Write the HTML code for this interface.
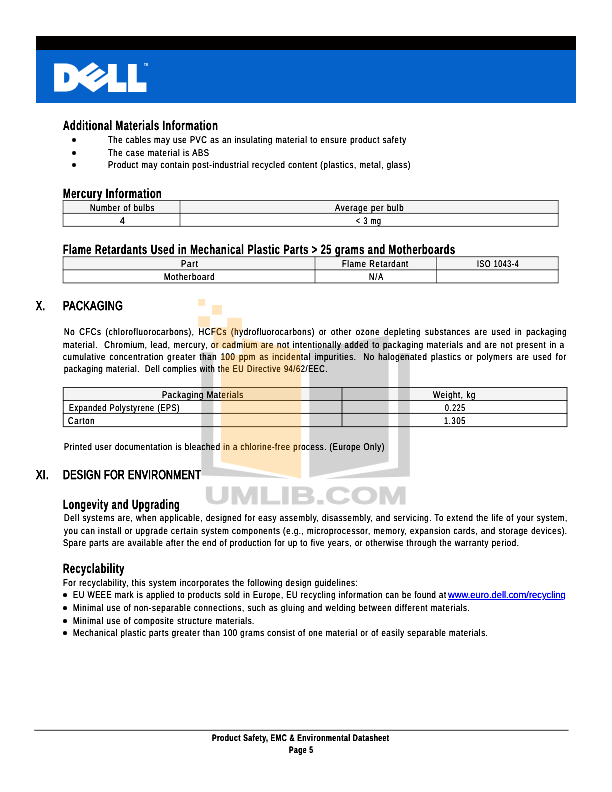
<!DOCTYPE html>
<html lang="en"><head><meta charset="utf-8"><title>Product Safety, EMC &amp; Environmental Datasheet - Page 5</title>
<style>
html,body{margin:0;padding:0;background:#fff;}
body{width:612px;height:792px;position:relative;overflow:hidden;font-family:"Liberation Sans",sans-serif;color:#000;}
.t{position:absolute;white-space:pre;line-height:1em;transform-origin:0 0;margin:0;padding:0;text-rendering:geometricPrecision;-webkit-text-stroke:0 #000;filter:url(#ink);}
.r{position:absolute;}
svg.o{position:absolute;left:0;top:0;}
</style></head><body>
<svg width="0" height="0" style="position:absolute"><defs><filter id="ink" x="-5%" y="-40%" width="110%" height="180%" color-interpolation-filters="sRGB"><feComponentTransfer><feFuncA type="linear" slope="1.7" intercept="-0.08"/></feComponentTransfer></filter></defs></svg>
<div class="r" style="left:36.00px;top:36.00px;width:540.00px;height:14.00px;background:#030000;"></div>
<div class="r" style="left:36.00px;top:50.00px;width:540.00px;height:52.85px;background:#0562cb;"></div>
<svg class="o" width="612" height="792" viewBox="0 0 612 792" style="z-index:1;will-change:transform">
<g aria-label="DELL" font-family="Liberation Sans, sans-serif" font-weight="bold" font-size="31.9" fill="#fff" stroke="#fff" stroke-width="5.96" stroke-linejoin="miter"><text transform="translate(54.39,89) scale(1,1)" font-size="33" stroke-width="5.2">D</text><text transform="matrix(0.9746,-0.683,0.819,0.574,91.42,91.57)" font-size="33.3" stroke-width="3.6">E</text><text transform="translate(108.69,88.62) scale(0.82,1)">L</text><text transform="translate(128.69,88.62) scale(0.82,1)">L</text></g>
<text x="144" y="66" font-family="Liberation Sans, sans-serif" font-size="2.8" font-weight="bold" fill="#fff">TM</text>
</svg>
<svg class="o" width="612" height="792" viewBox="0 0 612 792" fill="none"><rect x="64.3" y="201.5" width="114.50" height="11.60" fill="#f4f4f4"/><rect x="181.2" y="201.5" width="375.85" height="11.60" fill="#f4f4f4"/><path d="M62.81 200.5H558.54" stroke="#111" stroke-width="0.75"/><path d="M62.81 213.45H558.54" stroke="#111" stroke-width="0.75"/><path d="M62.81 226.4H558.54" stroke="#111" stroke-width="0.75"/><path d="M63.1 200.5V226.4" stroke="#000" stroke-width="0.58"/><path d="M180.0 200.5V226.4" stroke="#000" stroke-width="0.58"/><path d="M558.25 200.5V226.4" stroke="#000" stroke-width="0.58"/><rect x="64.3" y="257.7" width="249.50" height="11.75" fill="#f4f4f4"/><rect x="316.2" y="257.7" width="119.10" height="11.75" fill="#f4f4f4"/><rect x="437.7" y="257.7" width="119.35" height="11.75" fill="#f4f4f4"/><path d="M62.81 256.7H558.54" stroke="#111" stroke-width="0.75"/><path d="M62.81 269.8H558.54" stroke="#111" stroke-width="0.75"/><path d="M62.81 282.9H558.54" stroke="#111" stroke-width="0.75"/><path d="M63.1 256.7V282.9" stroke="#000" stroke-width="0.58"/><path d="M315.0 256.7V282.9" stroke="#000" stroke-width="0.58"/><path d="M436.5 256.7V282.9" stroke="#000" stroke-width="0.58"/><path d="M558.25 256.7V282.9" stroke="#000" stroke-width="0.58"/><rect x="64.5" y="388.5" width="276.30" height="11.65" fill="#f4f4f4"/><rect x="343.2" y="388.5" width="222.60" height="11.65" fill="#f4f4f4"/><path d="M62.9 387.5H567.4" stroke="#111" stroke-width="0.9"/><path d="M62.9 400.5H567.4" stroke="#111" stroke-width="0.9"/><path d="M62.9 413.45H567.4" stroke="#111" stroke-width="0.9"/><path d="M62.9 426.6H567.4" stroke="#111" stroke-width="0.9"/><path d="M63.3 387.5V426.6" stroke="#000" stroke-width="0.8"/><path d="M342.0 387.5V426.6" stroke="#000" stroke-width="0.8"/><path d="M567.0 387.5V426.6" stroke="#000" stroke-width="0.8"/><path d="M34.2 730.3H568.6" stroke="#000" stroke-width="0.8"/></svg>
<div class="t" style="left:63.30px;top:119px;font-size:13.5px;transform:scaleX(0.6750);font-weight:bold;letter-spacing:0.739px;">Additional Materials Information</div>
<div class="r" style="left:72.10px;top:138.00px;width:3.8px;height:3.8px;border-radius:50%;background:#000;"></div>
<div class="t" style="left:108.00px;top:136px;font-size:9.75px;transform:scaleX(0.7881);letter-spacing:0.735px;">The cables may use PVC as an insulating material to ensure product safety</div>
<div class="r" style="left:72.10px;top:151.10px;width:3.8px;height:3.8px;border-radius:50%;background:#000;"></div>
<div class="t" style="left:108.00px;top:149px;font-size:9.75px;transform:scaleX(0.7975);letter-spacing:0.771px;">The case material is ABS</div>
<div class="r" style="left:72.10px;top:163.10px;width:3.8px;height:3.8px;border-radius:50%;background:#000;"></div>
<div class="t" style="left:108.00px;top:161px;font-size:9.75px;transform:scaleX(0.7995);letter-spacing:0.696px;">Product may contain post-industrial recycled content (plastics, metal, glass)</div>
<div class="t" style="left:63.30px;top:187px;font-size:13.5px;transform:scaleX(0.6806);font-weight:bold;letter-spacing:0.806px;">Mercury Information</div>
<div class="t" style="left:89.50px;top:204px;font-size:9.75px;transform:scaleX(0.7724);letter-spacing:0.832px;">Number of bulbs</div>
<div class="t" style="left:120.36px;top:217px;font-size:9.75px;transform:scaleX(0.9000);">4</div>
<div class="t" style="left:334.50px;top:204px;font-size:9.75px;transform:scaleX(0.7952);letter-spacing:0.804px;">Average per bulb</div>
<div class="t" style="left:356.00px;top:217px;font-size:9.75px;transform:scaleX(0.7148);letter-spacing:0.979px;">&lt; 3 mg</div>
<div class="t" style="left:63.30px;top:243px;font-size:13.5px;transform:scaleX(0.6741);font-weight:bold;letter-spacing:0.765px;">Flame Retardants Used in Mechanical Plastic Parts &gt; 25 grams and Motherboards</div>
<div class="t" style="left:180.50px;top:260px;font-size:9.75px;transform:scaleX(0.8176);letter-spacing:0.970px;">Part</div>
<div class="t" style="left:341.50px;top:260px;font-size:9.75px;transform:scaleX(0.7846);letter-spacing:0.844px;">Flame Retardant</div>
<div class="t" style="left:476.50px;top:260px;font-size:9.75px;transform:scaleX(0.7201);letter-spacing:0.902px;">ISO 1043-4</div>
<div class="t" style="left:163.75px;top:273px;font-size:9.75px;transform:scaleX(0.7856);letter-spacing:0.900px;">Motherboard</div>
<div class="t" style="left:368.50px;top:273px;font-size:9.75px;transform:scaleX(0.7540);letter-spacing:1.323px;">N/A</div>
<div class="t" style="left:36.10px;top:299px;font-size:13px;transform:scaleX(0.6884);letter-spacing:0.646px;-webkit-text-stroke-width:0.35px;">X.</div>
<div class="t" style="left:63.30px;top:299px;font-size:13px;transform:scaleX(0.7430);letter-spacing:0.502px;-webkit-text-stroke-width:0.35px;">PACKAGING</div>
<div class="t" style="left:64.00px;top:328px;font-size:9.75px;transform:scaleX(0.7998);word-spacing:1.552px;letter-spacing:0.747px;">No CFCs (chlorofluorocarbons), HCFCs (hydrofluorocarbons) or other ozone depleting substances are used in packaging</div>
<div class="t" style="left:63.40px;top:341px;font-size:9.75px;transform:scaleX(0.7998);word-spacing:0.483px;letter-spacing:0.714px;">material.  Chromium, lead, mercury, or cadmium are not intentionally added to packaging materials and are not present in a</div>
<div class="t" style="left:63.40px;top:353px;font-size:9.75px;transform:scaleX(0.7998);word-spacing:1.044px;letter-spacing:0.713px;">cumulative concentration greater than 100 ppm as incidental impurities.  No halogenated plastics or polymers are used for</div>
<div class="t" style="left:64.10px;top:365px;font-size:9.75px;transform:scaleX(0.7712);letter-spacing:0.724px;">packaging material.  Dell complies with the EU Directive 94/62/EEC.</div>
<div class="t" style="left:161.75px;top:391px;font-size:9.75px;transform:scaleX(0.7959);letter-spacing:0.794px;">Packaging Materials</div>
<div class="t" style="left:433.00px;top:391px;font-size:9.75px;transform:scaleX(0.7919);letter-spacing:0.830px;">Weight, kg</div>
<div class="t" style="left:68.80px;top:404px;font-size:9.75px;transform:scaleX(0.7522);letter-spacing:0.822px;">Expanded Polystyrene (EPS)</div>
<div class="t" style="left:444.75px;top:404px;font-size:9.75px;transform:scaleX(0.7049);letter-spacing:0.993px;">0.225</div>
<div class="t" style="left:67.70px;top:417px;font-size:9.75px;transform:scaleX(0.7802);letter-spacing:0.953px;">Carton</div>
<div class="t" style="left:443.50px;top:417px;font-size:9.75px;transform:scaleX(0.7490);letter-spacing:0.993px;">1.305</div>
<div class="t" style="left:63.80px;top:443px;font-size:9.75px;transform:scaleX(0.7878);letter-spacing:0.720px;">Printed user documentation is bleached in a chlorine-free process. (Europe Only)</div>
<div class="t" style="left:36.10px;top:468px;font-size:13px;transform:scaleX(0.7561);letter-spacing:0.418px;-webkit-text-stroke-width:0.35px;">XI.</div>
<div class="t" style="left:63.30px;top:468px;font-size:13px;transform:scaleX(0.7258);letter-spacing:0.453px;-webkit-text-stroke-width:0.35px;">DESIGN FOR ENVIRONMENT</div>
<div class="t" style="left:63.30px;top:498px;font-size:13.5px;transform:scaleX(0.6453);font-weight:bold;letter-spacing:0.822px;">Longevity and Upgrading</div>
<div class="t" style="left:63.90px;top:514px;font-size:9.75px;transform:scaleX(0.7984);letter-spacing:0.711px;">Dell systems are, when applicable, designed for easy assembly, disassembly, and servicing. To extend the life of your system,</div>
<div class="t" style="left:63.50px;top:527px;font-size:9.75px;transform:scaleX(0.7985);letter-spacing:0.729px;">you can install or upgrade certain system components (e.g., microprocessor, memory, expansion cards, and storage devices).</div>
<div class="t" style="left:63.20px;top:539px;font-size:9.75px;transform:scaleX(0.7983);letter-spacing:0.689px;">Spare parts are available after the end of production for up to five years, or otherwise through the warranty period.</div>
<div class="t" style="left:63.30px;top:562px;font-size:13.5px;transform:scaleX(0.6673);font-weight:bold;letter-spacing:0.764px;">Recyclability</div>
<div class="t" style="left:62.50px;top:579px;font-size:9.75px;transform:scaleX(0.8042);letter-spacing:0.684px;">For recyclability, this system incorporates the following design guidelines:</div>
<div class="r" style="left:63.15px;top:593.35px;width:3.7px;height:3.7px;border-radius:50%;background:#000;"></div>
<div class="t" style="left:73.00px;top:591px;font-size:9.75px;transform:scaleX(0.7819);letter-spacing:0.734px;">EU WEEE mark is applied to products sold in Europe, EU recycling information can be found at</div>
<div class="r" style="left:63.15px;top:606.25px;width:3.7px;height:3.7px;border-radius:50%;background:#000;"></div>
<div class="t" style="left:73.00px;top:604px;font-size:9.75px;transform:scaleX(0.7982);letter-spacing:0.725px;">Minimal use of non-separable connections, such as gluing and welding between different materials.</div>
<div class="r" style="left:63.15px;top:619.25px;width:3.7px;height:3.7px;border-radius:50%;background:#000;"></div>
<div class="t" style="left:73.00px;top:617px;font-size:9.75px;transform:scaleX(0.7969);letter-spacing:0.724px;">Minimal use of composite structure materials.</div>
<div class="r" style="left:63.15px;top:631.15px;width:3.7px;height:3.7px;border-radius:50%;background:#000;"></div>
<div class="t" style="left:73.00px;top:629px;font-size:9.75px;transform:scaleX(0.7949);letter-spacing:0.702px;">Mechanical plastic parts greater than 100 grams consist of one material or of easily separable materials.</div>
<div class="t" style="left:448.00px;top:591px;font-size:9.75px;transform:scaleX(0.9573);color:#0000ff;-webkit-text-stroke-color:#0000ff;text-decoration:underline;">www.euro.dell.com/recycling</div>
<div class="t" style="left:212.40px;top:734px;font-size:9.5px;transform:scaleX(0.7281);font-weight:bold;letter-spacing:0.553px;-webkit-text-stroke-width:0px;">Product Safety, EMC &amp; Environmental Datasheet</div>
<div class="t" style="left:288.90px;top:746px;font-size:9.5px;transform:scaleX(0.7081);font-weight:bold;letter-spacing:0.681px;-webkit-text-stroke-width:0px;">Page 5</div>
<svg class="o" width="612" height="792" viewBox="0 0 612 792" style="z-index:5">
<g fill="#ff9900" opacity="0.258">
<path d="M198.1 299.1h7v6.7h-7z M211.9 305.1h10v9.7h-10z M198.1 316.3h11.8v11h-11.8z M227.1 317.8h14.8v14.7h-7.3v16h-21.1v-21.2h13.6z M221 354.7h21v-16.7l59.2 12.2v128.3l-80.2-16.7z"/>
</g>
<g fill="#000" stroke="none" opacity="0.175">
<path d="M201.3 352.3h12v114.4l76.7 11.8l-88.7-3z M309.3 350l79.3-14.5v126.3l-79.3 15.7z M398 353h11.8v123.5l-86.3 2.5l74.5-11.3z"/>
</g>
<g fill="#000" stroke="#000" stroke-width="1" opacity="0.175">
<text x="204.6" y="503.8" font-family="Liberation Sans, sans-serif" font-weight="bold" font-size="24" textLength="202.6" lengthAdjust="spacingAndGlyphs">UMLIB.COM</text>
</g>
</svg>
</body></html>
